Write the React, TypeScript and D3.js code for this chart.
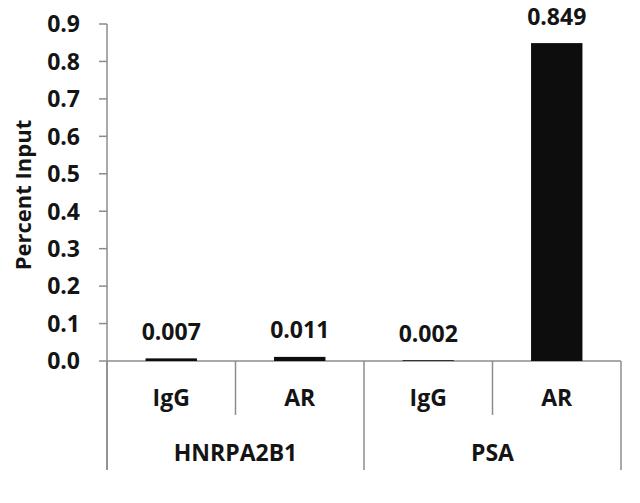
import React from "react";
import * as d3 from "d3";

const groups = ["HNRPA2B1", "PSA"];
const conditions = ["IgG", "AR", "IgG", "AR"];
const values = [0.007, 0.011, 0.002, 0.849];
const valueLabels = ["0.007", "0.011", "0.002", "0.849"];
const yTicks = [0, 0.1, 0.2, 0.3, 0.4, 0.5, 0.6, 0.7, 0.8, 0.9];

const W = 640;
const H = 503;
const left = 107;
const right = 621;
const top = 24;
const bottom = 361;
const font = "'Open Sans', sans-serif";
const axisColor = "#8c8c8c";
const textColor = "#141414";

export default function App() {
  const y = d3.scaleLinear().domain([0, 0.9]).range([bottom, top]);
  const x = d3
    .scaleBand<number>()
    .domain(d3.range(values.length))
    .range([left, right])
    .paddingInner(0)
    .paddingOuter(0);
  const bw = x.bandwidth();
  const barW = bw * 0.4;
  const groupX = d3
    .scaleBand<number>()
    .domain(d3.range(groups.length))
    .range([left, right]);

  return (
    <svg
      width={W}
      height={H}
      style={{ position: "absolute", left: 0, top: 0, background: "#fff" }}
      fontFamily={font}
      fontWeight="bold"
    >
      {/* y axis */}
      <line x1={left} x2={left} y1={y(0.9)} y2={470} stroke={axisColor} strokeWidth={1.5} />
      {yTicks.map((t) => (
        <g key={t}>
          <line x1={left - 8} x2={left} y1={y(t)} y2={y(t)} stroke={axisColor} strokeWidth={1.5} />
          <text
            x={80}
            y={y(t)}
            dy="0.36em"
            textAnchor="end"
            fontSize={23}
            fill={textColor}
          >
            {t.toFixed(1)}
          </text>
        </g>
      ))}
      <text
        transform={`translate(31,195) rotate(-90)`}
        textAnchor="middle"
        fontSize={22}
        fill={textColor}
      >
        Percent Input
      </text>

      {/* x axis */}
      <line x1={left} x2={right} y1={y(0)} y2={y(0)} stroke={axisColor} strokeWidth={1.5} />
      {d3.range(values.length + 1).map((i) => {
        const xx = i < values.length ? x(i)! : right;
        const long = i % 2 === 0;
        return (
          <line
            key={i}
            x1={xx}
            x2={xx}
            y1={y(0)}
            y2={long ? 470 : 415}
            stroke={axisColor}
            strokeWidth={1.5}
          />
        );
      })}

      {/* bars */}
      {values.map((v, i) => {
        const cx = x(i)! + bw / 2;
        return (
          <g key={i}>
            <rect
              x={cx - barW / 2}
              y={y(v)}
              width={barW}
              height={Math.max(y(0) - y(v), 0)}
              fill="#0d0d0d"
            />
            <text x={cx} y={y(v) - 18.5} textAnchor="middle" fontSize={23} fill={textColor}>
              {valueLabels[i]}
            </text>
            <text x={cx} y={406} textAnchor="middle" fontSize={23} fill={textColor}>
              {conditions[i]}
            </text>
          </g>
        );
      })}
      {groups.map((g, gi) => (
        <text
          key={g}
          x={groupX(gi)! + groupX.bandwidth() / 2}
          y={461}
          textAnchor="middle"
          fontSize={23}
          fill={textColor}
        >
          {g}
        </text>
      ))}
    </svg>
  );
}
